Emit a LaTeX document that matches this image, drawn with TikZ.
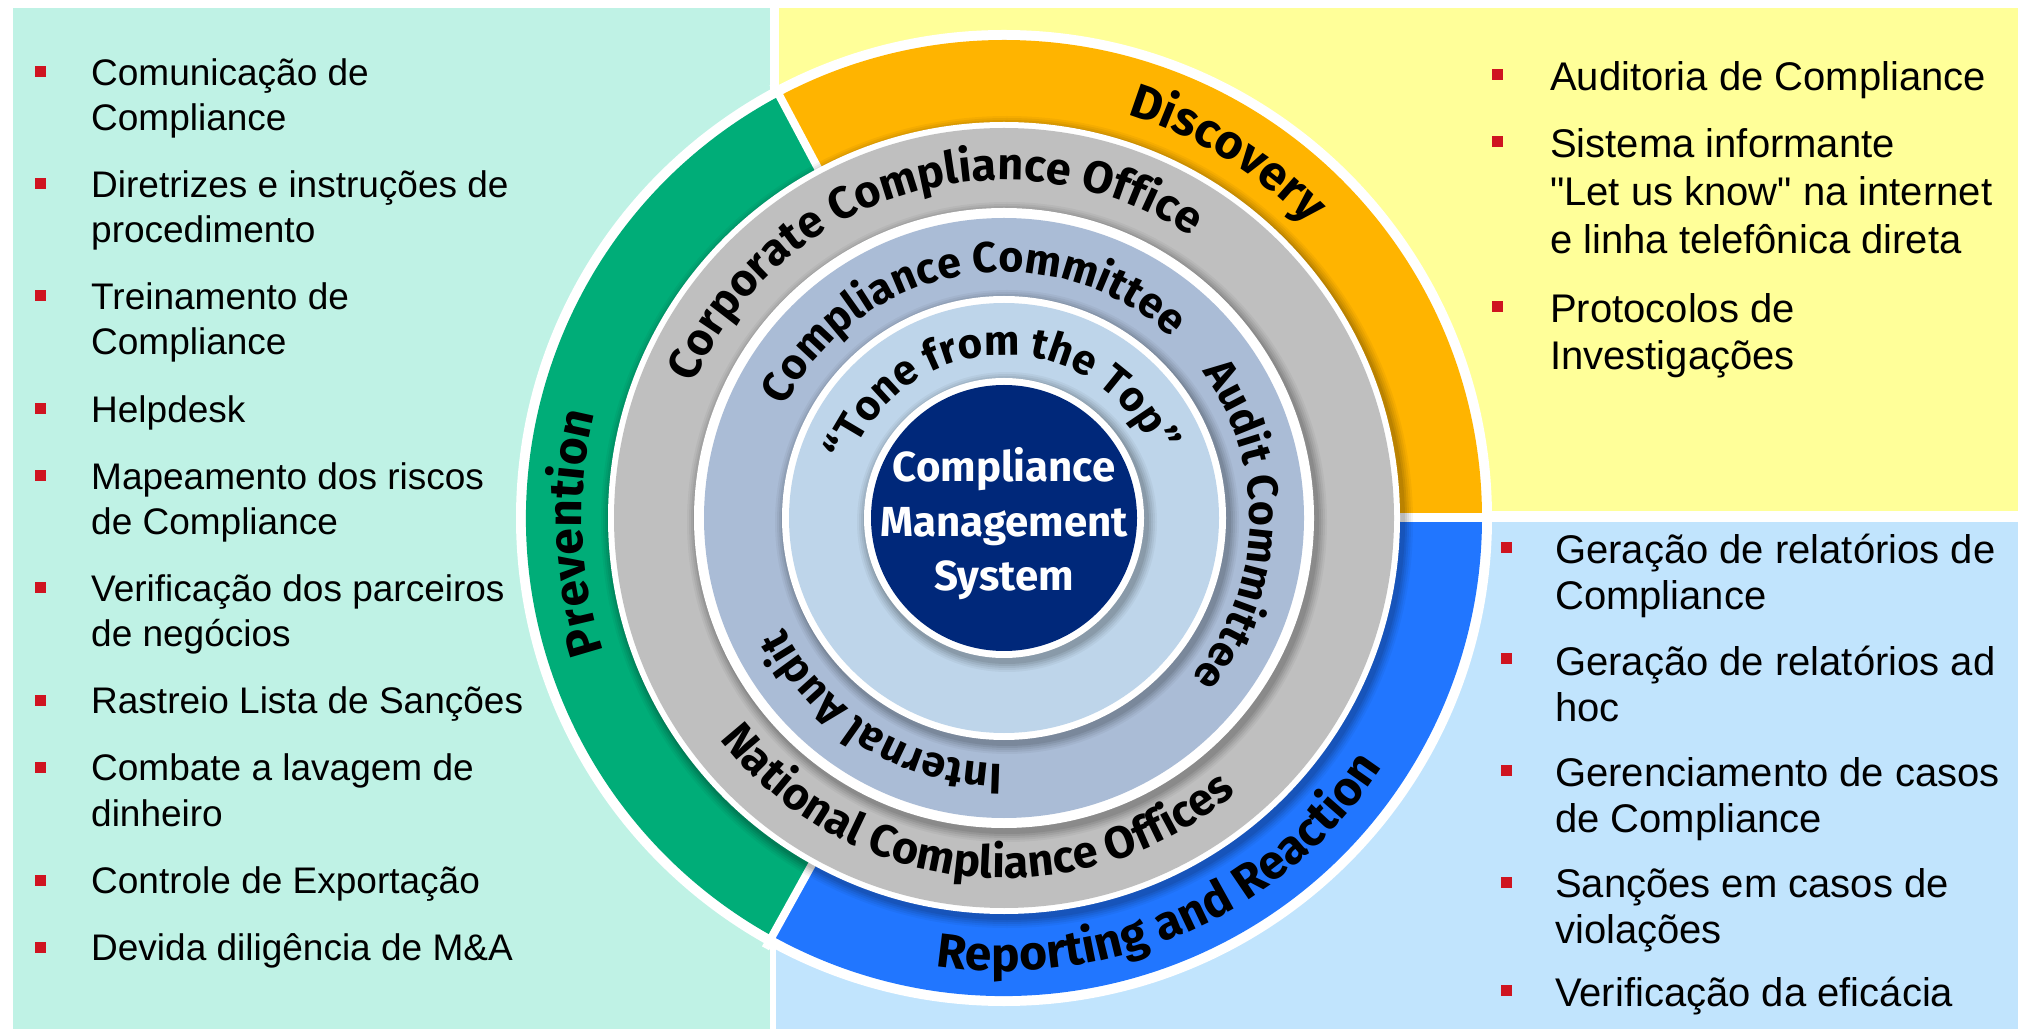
\documentclass[tikz,border=0pt]{standalone}
\usepackage{fontspec}
\setmainfont{Liberation Sans}
\newfontfamily\ringfont{Fira Sans}
\usetikzlibrary{calc,decorations.text}
\definecolor{mint}{HTML}{BFF2E5}
\definecolor{yel}{HTML}{FFFF99}
\definecolor{lblue}{HTML}{C1E4FD}
\definecolor{pgreen}{HTML}{00AD78}
\definecolor{porange}{HTML}{FFB400}
\definecolor{pblue}{HTML}{2176FF}
\definecolor{pgray}{HTML}{BFBFBF}
\definecolor{bgray}{HTML}{AABCD6}
\definecolor{ltblue}{HTML}{BED5EA}
\definecolor{navy}{HTML}{00287A}
\definecolor{bred}{HTML}{CF1420}
\newcommand\fOuter{\ringfont\bfseries\fontsize{48}{48}\selectfont}
\newcommand\fMid{\ringfont\bfseries\fontsize{45}{45}\selectfont}
\newcommand\fInner{\ringfont\bfseries\fontsize{43}{43}\selectfont}
\newcommand\fTone{\ringfont\bfseries\fontsize{42}{42}\selectfont}
\newcommand\fCenter{\ringfont\bfseries\fontsize{42}{54.5}\selectfont}
\newcommand\straightq{\XeTeXglyph\XeTeXcharglyph"22\relax}
\newcommand\softshadow[1]{\foreach \sd/\so in {10/0.04,8/0.05,6/0.06,4/0.07,2/0.08}{\fill[black,opacity=\so] ($(C)+(3,-4)$) circle[radius=#1+\sd];}}
\tikzset{
  ringtext/.style={decorate,decoration={text along path,text align=center,text={#1}}},
  itemL/.style={anchor=base west,inner sep=0pt,font=\fontsize{37}{45}\selectfont},
  itemR/.style={anchor=base west,inner sep=0pt,font=\fontsize{40}{47}\selectfont},
  bul/.style={fill=bred,minimum size=11pt,inner sep=0pt},
}
\begin{document}
\begin{tikzpicture}[x=1pt,y=1pt]
\useasboundingbox (0,0) rectangle (2018,1029);
\fill[white] (0,0) rectangle (2018,1029);
% panels
\fill[mint] (13,0) rectangle (770,1021);
\fill[yel] (779,518) rectangle (2018,1021);
\fill[lblue] (776,0) rectangle (2018,507);
% rings
\coordinate (C) at (1004,511);
\fill[white] (C) circle[radius=488];
\fill[pgreen] (C) -- ++(118:478) arc[start angle=118,end angle=241,radius=478] -- cycle;
\fill[porange] (C) -- ++(0:478) arc[start angle=0,end angle=118,radius=478] -- cycle;
\fill[pblue] (C) -- ++(241:478) arc[start angle=241,end angle=360,radius=478] -- cycle;
\draw[white,line width=9pt] (C) -- ++(0:492);
\draw[white,line width=8pt] (C) -- ++(118:492);
\draw[white,line width=8pt] (C) -- ++(241:492);
\softshadow{396}
\fill[white] (C) circle[radius=396];
\fill[pgray] (C) circle[radius=390];
\softshadow{310}
\fill[white] (C) circle[radius=310];
\fill[bgray] (C) circle[radius=300];
\softshadow{222}
\fill[white] (C) circle[radius=222];
\fill[ltblue] (C) circle[radius=215];
\softshadow{140}
\fill[white] (C) circle[radius=140];
\fill[navy] (C) circle[radius=133];
% curved labels
\path[ringtext={|\fOuter|Prevention}] ($(C)+(230:422)$) arc[start angle=230,end angle=134,radius=422];
\path[ringtext={|\fOuter|Discovery}] ($(C)+(100:422)$) arc[start angle=100,end angle=17,radius=422];
\path[ringtext={|\fOuter|Reporting and Reaction}] ($(C)+(239:453)$) arc[start angle=239,end angle=349,radius=453];
\path[ringtext={|\fMid|Corporate Compliance Office}] ($(C)+(175:338)$) arc[start angle=175,end angle=38,radius=338];
\path[ringtext={|\fMid|National Compliance Offices}] ($(C)+(195:360)$) arc[start angle=195,end angle=333,radius=360];
\path[ringtext={|\fInner|Compliance Committee}] ($(C)+(170:246)$) arc[start angle=170,end angle=30,radius=246];
\path[ringtext={|\fInner|Audit Committee}] ($(C)+(63:246)$) arc[start angle=63,end angle=-67,radius=246];
\path[ringtext={|\fInner|Internal Audit}] ($(C)+(300:246)$) arc[start angle=300,end angle=176,radius=246];
\path[ringtext={|\fTone|“Tone from the Top”}] ($(C)+(178:163)$) arc[start angle=178,end angle=5,radius=163];
\node[align=center,text=white,font=\fCenter,inner sep=0pt] (cms) at (1004,505) {Compliance\\Management\\System};
% left list
\node[bul] (lb1) at (40,957) {};
\node[itemL] (l1a) at (91,943.5) {Comunicação de};
\node[itemL] (l1b) at (91,898) {Compliance};
\node[bul] (lb2) at (40,845) {};
\node[itemL] (l2a) at (91,831.5) {Diretrizes e instruções de};
\node[itemL] (l2b) at (91,786) {procedimento};
\node[bul] (lb3) at (40,733) {};
\node[itemL] (l3a) at (91,719.5) {Treinamento de};
\node[itemL] (l3b) at (91,674) {Compliance};
\node[bul] (lb4) at (40,620) {};
\node[itemL] (l4a) at (91,606.5) {Helpdesk};
\node[bul] (lb5) at (40,553) {};
\node[itemL] (l5a) at (91,539.5) {Mapeamento dos riscos};
\node[itemL] (l5b) at (91,494) {de Compliance};
\node[bul] (lb6) at (40,441) {};
\node[itemL] (l6a) at (91,427.5) {Verificação dos parceiros};
\node[itemL] (l6b) at (91,382) {de negócios};
\node[bul] (lb7) at (40,329) {};
\node[itemL] (l7a) at (91,315.5) {Rastreio Lista de Sanções};
\node[bul] (lb8) at (40,262) {};
\node[itemL] (l8a) at (91,248.5) {Combate a lavagem de};
\node[itemL] (l8b) at (91,203) {dinheiro};
\node[bul] (lb9) at (40,149) {};
\node[itemL] (l9a) at (91,135.5) {Controle de Exportação};
\node[bul] (lb10) at (40,82) {};
\node[itemL] (l10a) at (91,68.5) {Devida diligência de M\&A};
% right top list
\node[bul] (tb1) at (1497,954) {};
\node[itemR] (t1a) at (1550,938) {Auditoria de Compliance};
\node[bul] (tb2) at (1497,887) {};
\node[itemR] (t2a) at (1550,871) {Sistema informante};
\node[itemR] (t2b) at (1550,823) {\straightq Let us know\straightq{} na internet};
\node[itemR] (t2c) at (1550,775) {e linha telefônica direta};
\node[bul] (tb3) at (1497,722) {};
\node[itemR] (t3a) at (1550,706) {Protocolos de};
\node[itemR] (t3b) at (1550,659) {Investigações};
% right bottom list
\node[bul] (rb1) at (1506,481) {};
\node[itemR] (r1a) at (1555,465) {Geração de relatórios de};
\node[itemR] (r1b) at (1555,419) {Compliance};
\node[bul] (rb2) at (1506,370) {};
\node[itemR] (r2a) at (1555,354) {Geração de relatórios ad};
\node[itemR] (r2b) at (1555,308) {hoc};
\node[bul] (rb3) at (1506,259) {};
\node[itemR] (r3a) at (1555,243) {Gerenciamento de casos};
\node[itemR] (r3b) at (1555,197) {de Compliance};
\node[bul] (rb4) at (1506,147) {};
\node[itemR] (r4a) at (1555,132) {Sanções em casos de};
\node[itemR] (r4b) at (1555,86) {violações};
\node[bul] (rb5) at (1506,39) {};
\node[itemR] (r5a) at (1555,23) {Verificação da eficácia};
\end{tikzpicture}
\end{document}
